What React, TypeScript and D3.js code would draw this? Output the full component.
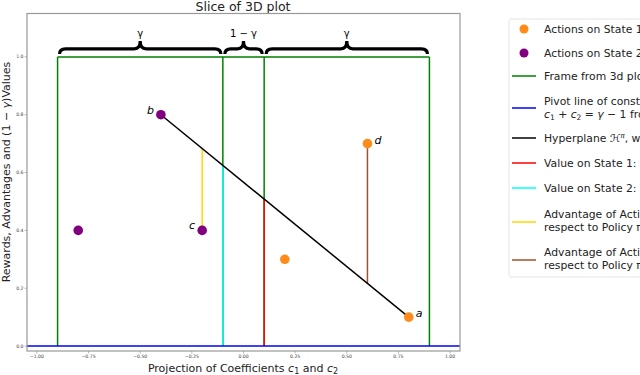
import React from "react";
import * as d3 from "d3";

const W = 640, H = 375;
const xTicks = [-1.0, -0.75, -0.5, -0.25, 0.0, 0.25, 0.5, 0.75, 1.0];
const yTicks = [0.0, 0.2, 0.4, 0.6, 0.8, 1.0];

const state1X = [0.8, 0.6, 0.2];
const state1Y = [0.1, 0.7, 0.3];
const state2X = [-0.4, -0.2, -0.8];
const state2Y = [0.8, 0.4, 0.4];
const pointLabels = ["a", "d", "b", "c"];
const labelX = [0.8, 0.6, -0.4, -0.2];
const labelY = [0.1, 0.7, 0.8, 0.4];

const frameX = [-0.9, -0.1, 0.1, 0.9];
const hyperX = [-0.4, 0.8];
const hyperY = [0.8, 0.1];
const valueX = [0.1, -0.1];
const advX = [-0.2, 0.6];
const advY = [0.4, 0.7];
const braceLabels = ["γ", "1 − γ", "γ"];

const C = {
  orange: "#ff8c1a",
  purple: "#800080",
  green: "#008000",
  blue: "#0000ff",
  black: "#000000",
  red: "#ff0000",
  cyan: "#00ffff",
  yellow: "#ffd700",
  brown: "#a0522d",
};

const x = d3.scaleLinear().domain([-1.048, 1.048]).range([27, 460]);
const y = d3.scaleLinear().domain([-0.017, 1.15]).range([351, 13.5]);
const hyper = d3.scaleLinear().domain(hyperX).range(hyperY);

function bracePath(x1: number, x2: number) {
  const px1 = x(x1) + 2, px2 = x(x2) - 2;
  const yt = y(1.01), yb = y(1.028), yp = y(1.055);
  const xm = (px1 + px2) / 2;
  const r = 6;
  return `M${px1},${yt} Q${px1},${yb} ${px1 + r},${yb} L${xm - r},${yb} Q${xm},${yb} ${xm},${yp} Q${xm},${yb} ${xm + r},${yb} L${px2 - r},${yb} Q${px2},${yb} ${px2},${yt}`;
}

const font = "DejaVu Sans, sans-serif";

export default function App() {
  const lg = { x: 509, y: 19 };
  const mx1 = 512, mx2 = 536, tx = 544;
  return (
    <svg width={W} height={H} style={{ position: "absolute", left: 0, top: 0, background: "#fff" }} fontFamily={font}>
      <text x={243} y={11} fontSize={12.5} textAnchor="middle" fill="#222">Slice of 3D plot</text>

      {/* frame */}
      <line x1={x(frameX[0])} x2={x(frameX[3])} y1={y(1)} y2={y(1)} stroke={C.green} strokeWidth={1.5} />
      {frameX.map((f, i) => (
        <line key={i} x1={x(f)} x2={x(f)} y1={y(0)} y2={y(1)} stroke={C.green} strokeWidth={1.5} />
      ))}

      {/* value lines */}
      <line x1={x(valueX[0])} x2={x(valueX[0])} y1={y(0)} y2={y(hyper(valueX[0]))} stroke={C.red} strokeWidth={1.5} />
      <line x1={x(valueX[1])} x2={x(valueX[1])} y1={y(0)} y2={y(hyper(valueX[1]))} stroke={C.cyan} strokeWidth={1.5} />

      {/* advantages */}
      <line x1={x(advX[0])} x2={x(advX[0])} y1={y(advY[0])} y2={y(hyper(advX[0]))} stroke={C.yellow} strokeWidth={1.5} />
      <line x1={x(advX[1])} x2={x(advX[1])} y1={y(advY[1])} y2={y(hyper(advX[1]))} stroke={C.brown} strokeWidth={1.5} />

      {/* hyperplane */}
      <line x1={x(hyperX[0])} x2={x(hyperX[1])} y1={y(hyperY[0])} y2={y(hyperY[1])} stroke={C.black} strokeWidth={1.5} />

      {/* pivot */}
      <line x1={27} x2={460} y1={y(0)} y2={y(0)} stroke={C.blue} strokeWidth={1.5} />

      {/* points */}
      {state1X.map((v, i) => (
        <circle key={"o" + i} cx={x(v)} cy={y(state1Y[i])} r={4.8} fill={C.orange} />
      ))}
      {state2X.map((v, i) => (
        <circle key={"p" + i} cx={x(v)} cy={y(state2Y[i])} r={4.8} fill={C.purple} />
      ))}
      {pointLabels.map((l, i) => {
        const right = labelX[i] > 0;
        return (
          <text key={l} x={x(labelX[i]) + (right ? 7 : -7)} y={y(labelY[i]) + (right ? 0 : -1)}
            fontSize={11} fontStyle="italic" textAnchor={right ? "start" : "end"} fill="#000">{l}</text>
        );
      })}

      {/* braces */}
      {[0, 1, 2].map((i) => (
        <g key={"b" + i}>
          <path d={bracePath(frameX[i], frameX[i + 1])} fill="none" stroke="#000" strokeWidth={3.2} strokeLinecap="butt" />
          <text x={(x(frameX[i]) + x(frameX[i + 1])) / 2} y={y(1.07)} fontSize={10} textAnchor="middle" fill="#000">{braceLabels[i]}</text>
        </g>
      ))}

      {/* spines */}
      <rect x={27} y={13.5} width={433} height={337.5} fill="none" stroke="#999" strokeWidth={1.2} />

      {/* x ticks */}
      {xTicks.map((t) => (
        <g key={"x" + t}>
          <line x1={x(t)} x2={x(t)} y1={351} y2={353.5} stroke="#888" strokeWidth={0.6} />
          <text x={x(t)} y={357.5} fontSize={4.6} textAnchor="middle" fill="#444">{d3.format(".2f")(t).replace("-", "−")}</text>
        </g>
      ))}
      {yTicks.map((t) => (
        <g key={"y" + t}>
          <line x1={24.5} x2={27} y1={y(t)} y2={y(t)} stroke="#888" strokeWidth={0.6} />
          <text x={23.5} y={y(t) + 1.6} fontSize={4.6} textAnchor="end" fill="#444">{d3.format(".1f")(t)}</text>
        </g>
      ))}

      <text x={243} y={372} fontSize={11} textAnchor="middle" fill="#222">
        Projection of Coefficients <tspan fontStyle="italic">c</tspan><tspan fontSize={8} dy={2}>1</tspan><tspan dy={-2}> and </tspan><tspan fontStyle="italic">c</tspan><tspan fontSize={8} dy={2}>2</tspan>
      </text>
      <text transform={`translate(10,${172}) rotate(-90)`} fontSize={11} textAnchor="middle" fill="#222">
        Rewards, Advantages and (1 − <tspan fontStyle="italic">γ</tspan>)Values
      </text>

      {/* legend */}
      <rect x={lg.x} y={lg.y} width={200} height={258} rx={2} fill="#fff" stroke="#ddd" strokeWidth={0.8} />
      <g fontSize={10.8} fill="#222">
        <circle cx={524} cy={29} r={4.5} fill={C.orange} />
        <text x={tx} y={33}>Actions on State 1</text>
        <circle cx={524} cy={53} r={4.5} fill={C.purple} />
        <text x={tx} y={57}>Actions on State 2</text>
        <line x1={mx1} x2={mx2} y1={76} y2={76} stroke={C.green} strokeWidth={1.5} />
        <text x={tx} y={80}>Frame from 3d plot</text>
        <line x1={mx1} x2={mx2} y1={108} y2={108} stroke={C.blue} strokeWidth={1.5} />
        <text x={tx} y={105}>Pivot line of constant</text>
        <text x={tx} y={117.5}><tspan fontStyle="italic">c</tspan><tspan fontSize={7.5} dy={2}>1</tspan><tspan dy={-2}> + </tspan><tspan fontStyle="italic">c</tspan><tspan fontSize={7.5} dy={2}>2</tspan><tspan dy={-2}> = </tspan><tspan fontStyle="italic">γ</tspan> − 1 from 3d plot</text>
        <line x1={mx1} x2={mx2} y1={138} y2={138} stroke={C.black} strokeWidth={1.5} />
        <text x={tx} y={142}>Hyperplane <tspan fontStyle="italic">ℋ</tspan><tspan fontSize={7} dy={-4} fontStyle="italic">π</tspan><tspan dy={4}>, with normal vector</tspan></text>
        <line x1={mx1} x2={mx2} y1={163} y2={163} stroke={C.red} strokeWidth={1.5} />
        <text x={tx} y={167}>Value on State 1: (1 − γ)V</text>
        <line x1={mx1} x2={mx2} y1={188} y2={188} stroke={C.cyan} strokeWidth={1.5} />
        <text x={tx} y={192}>Value on State 2: (1 − γ)V</text>
        <line x1={mx1} x2={mx2} y1={222} y2={222} stroke={C.yellow} strokeWidth={1.5} />
        <text x={tx} y={218}>Advantage of Action c with</text>
        <text x={tx} y={231}>respect to Policy π</text>
        <line x1={mx1} x2={mx2} y1={260} y2={260} stroke={C.brown} strokeWidth={1.5} />
        <text x={tx} y={256}>Advantage of Action d with</text>
        <text x={tx} y={269}>respect to Policy π</text>
      </g>
    </svg>
  );
}
